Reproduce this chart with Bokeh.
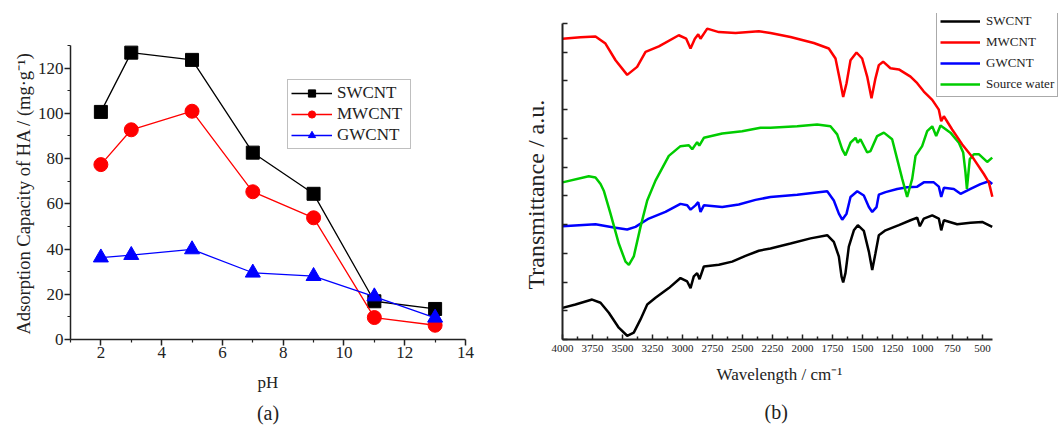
from bokeh.plotting import figure
from bokeh.layouts import row
from bokeh.models import Range1d, FixedTicker, Legend, LegendItem, Title
from bokeh.embed import file_html
from bokeh.resources import INLINE

FONT = "Liberation Serif"

# ---------------- (a) adsorption vs pH ----------------
ph = [2, 3, 5, 7, 9, 11, 13]
swcnt_ads = [100.6, 126.8, 123.6, 82.6, 64.4, 16.9, 13.5]
mwcnt_ads = [77.3, 92.7, 100.9, 65.3, 53.8, 9.7, 6.3]
gwcnt_ads = [36.2, 37.3, 39.8, 29.5, 28.0, 19.0, 9.6]

ph_ticks = [2, 4, 6, 8, 10, 12, 14]
ph_minor = [1, 3, 5, 7, 9, 11, 13]
ads_ticks = [0, 20, 40, 60, 80, 100, 120]
ads_minor = [10, 30, 50, 70, 90, 110, 130]

# ---------------- (b) FTIR spectra ----------------
ticks_b = [4000, 3750, 3500, 3250, 3000, 2750, 2500, 2250, 2000, 1750, 1500, 1250, 1000, 750, 500]
minor_b = [3875, 3625, 3375, 3125, 2875, 2625, 2375, 2125, 1875, 1625, 1375, 1125, 875, 625]
yt_b = [0, 10, 20, 30, 40, 50, 60, 70, 80, 90, 100, 110]

sw_wn = [4000, 3892, 3753, 3683, 3614, 3531, 3461, 3406, 3350, 3294, 3225, 3114, 3017, 2961,
         2933, 2906, 2878, 2858, 2822, 2697, 2586, 2475, 2364, 2267, 2100, 1933, 1794, 1739,
         1697, 1675, 1661, 1642, 1614, 1572, 1539, 1489, 1447, 1419, 1392, 1364, 1308, 1197,
         1100, 1044, 1022, 989, 919, 864, 844, 822, 711, 600, 503, 419]
sw_t = [11.0, 12.2, 13.9, 12.8, 9.3, 4.1, 1.3, 2.4, 7.0, 12.2, 14.5, 17.9, 21.4, 20.2,
        17.9, 22.0, 23.1, 21.0, 25.4, 26.0, 27.1, 29.1, 30.9, 31.7, 33.4, 35.2, 36.3, 34.0,
        28.9, 22.0, 19.9, 23.1, 32.3, 38.0, 39.8, 37.8, 30.6, 24.2, 30.0, 36.3, 38.0, 39.8,
        41.5, 42.4, 39.4, 42.1, 43.2, 42.1, 38.0, 41.5, 40.1, 40.6, 40.9, 39.2]

mw_wn = [4000, 3850, 3725, 3642, 3558, 3461, 3378, 3308, 3197, 3031, 2969, 2933, 2897, 2869,
         2850, 2794, 2697, 2558, 2364, 2267, 2100, 1906, 1781, 1725, 1683, 1661, 1633, 1600,
         1550, 1503, 1461, 1425, 1392, 1364, 1328, 1267, 1197, 1100, 1044, 989, 919, 864,
         844, 822, 753, 669, 572, 489, 447, 418]
mw_t = [104.7, 105.2, 105.5, 103.0, 97.2, 92.1, 94.9, 100.1, 102.0, 105.9, 104.7, 101.3, 104.7, 106.2,
        104.7, 108.2, 107.0, 106.7, 107.3, 106.7, 105.3, 103.2, 101.3, 97.8, 89.2, 84.4, 89.2, 97.2,
        99.9, 97.8, 91.5, 84.0, 90.9, 95.5, 96.7, 94.4, 94.0, 91.5, 89.2, 86.3, 83.4, 80.0,
        76.0, 77.7, 73.1, 67.9, 62.8, 57.6, 54.7, 49.7]

gw_wn = [4000, 3725, 3572, 3461, 3392, 3281, 3142, 3017, 2961, 2933, 2892, 2869, 2850, 2822,
         2669, 2531, 2392, 2267, 2044, 1794, 1739, 1697, 1669, 1633, 1600, 1544, 1489, 1447,
         1419, 1383, 1364, 1308, 1211, 1128, 1044, 989, 906, 864, 844, 822, 739, 683, 600,
         517, 447, 419]
gw_t = [39.4, 40.1, 39.0, 38.3, 39.2, 42.1, 44.4, 47.2, 46.7, 45.2, 46.7, 47.8, 44.4, 46.7,
        46.1, 47.0, 48.6, 49.6, 50.4, 51.6, 48.4, 43.8, 41.7, 43.8, 49.6, 51.6, 50.1, 46.1,
        44.4, 46.1, 50.4, 51.3, 52.4, 53.0, 53.2, 54.7, 54.7, 53.2, 49.6, 52.8, 52.4, 50.7, 52.4,
        54.1, 55.1, 54.1]

src_wn = [4000, 3781, 3725, 3683, 3656, 3600, 3531, 3475, 3447, 3406, 3350, 3294, 3225, 3114,
          3017, 2947, 2919, 2878, 2860, 2822, 2669, 2503, 2350, 2267, 2044, 1878, 1767, 1711,
          1669, 1642, 1600, 1558, 1540, 1517, 1461, 1433, 1378, 1322, 1253, 1211, 1169, 1128,
          1086, 1058, 1003, 961, 919, 886, 850, 767, 697, 661, 642, 630, 606, 572, 531, 461, 419]
src_t = [54.7, 56.8, 56.4, 54.1, 51.8, 43.8, 33.4, 27.1, 26.0, 28.9, 39.2, 48.4, 55.3, 63.9,
         67.3, 67.6, 66.2, 68.7, 67.5, 70.2, 71.7, 72.5, 73.7, 73.7, 74.2, 74.8, 74.2, 71.4,
         66.2, 64.1, 68.5, 70.2, 68.5, 69.7, 65.1, 65.6, 70.8, 72.0, 69.7, 62.8, 55.9, 49.6,
         55.9, 63.9, 67.3, 72.5, 74.2, 70.8, 74.5, 72.0, 68.5, 65.1, 58.2, 52.4, 62.8, 64.5, 64.5, 61.8, 63.3]

TXT = "#222222"


def style_axis(ax, tick_size):
    ax.major_label_text_font = FONT
    ax.major_label_text_font_size = tick_size
    ax.axis_label_text_font = FONT
    ax.axis_label_text_font_style = "normal"
    ax.axis_label_text_color = TXT
    ax.major_label_text_color = TXT
    ax.axis_line_color = TXT
    ax.major_tick_line_color = TXT
    ax.minor_tick_line_color = TXT


def make_title(text, size, standoff, align="center", offset=0):
    return Title(text=text, align=align, text_font=FONT, text_font_size=size,
                 text_font_style="normal", text_color=TXT, standoff=standoff, offset=offset)


# Both panels share frame top (13) and bottom (340) because the row aligns frames;
# axis bounds keep the axis lines where the reference draws them.

# ---------------- figure (a) ----------------
p1 = figure(width=480, height=429, x_range=Range1d(1, 14), y_range=Range1d(0, 144.1),
            output_backend="svg", toolbar_location=None,
            min_border_left=70, min_border_right=15, min_border_top=13, min_border_bottom=89)
p1.outline_line_color = None
p1.grid.visible = False

p1.xaxis.ticker = FixedTicker(ticks=ph_ticks, minor_ticks=ph_minor)
p1.yaxis.ticker = FixedTicker(ticks=ads_ticks, minor_ticks=ads_minor)
p1.yaxis.bounds = (0, 130)
p1.xaxis.axis_label = "pH"
p1.xaxis.axis_label_text_font_size = "17px"
for ax in (p1.xaxis[0], p1.yaxis[0]):
    style_axis(ax, "17px")
    ax.axis_line_width = 1.5
    ax.major_tick_line_width = 1.5
    ax.minor_tick_line_width = 1.2
    ax.major_tick_in = 0
    ax.major_tick_out = 6
    ax.minor_tick_in = 0
    ax.minor_tick_out = 3
p1.xaxis.major_label_standoff = 1
p1.xaxis.axis_label_standoff = 12
p1.yaxis.major_label_standoff = 1

p1.line(ph, swcnt_ads, line_color="black", line_width=1.3, legend_label="SWCNT")
p1.scatter(ph, swcnt_ads, marker="square", size=13, fill_color="black", line_color="black",
           legend_label="SWCNT")
p1.line(ph, mwcnt_ads, line_color="red", line_width=1.3, legend_label="MWCNT")
p1.scatter(ph, mwcnt_ads, marker="circle", size=14, fill_color="red", line_color="red",
           legend_label="MWCNT")
p1.line(ph, gwcnt_ads, line_color="blue", line_width=1.3, legend_label="GWCNT")
p1.scatter(ph, gwcnt_ads, marker="triangle", size=15, fill_color="blue", line_color="blue",
           legend_label="GWCNT")

lg1 = p1.legend[0]
lg1.location = (217, 190)
lg1.border_line_color = "#808080"
lg1.border_line_width = 1
lg1.label_text_font = FONT
lg1.label_text_font_size = "17px"
lg1.label_text_color = TXT
lg1.glyph_width = 41
lg1.glyph_height = 18
lg1.label_height = 19
lg1.label_standoff = 5
lg1.spacing = 1
lg1.padding = 3
lg1.margin = 0
lg1.label_width = 70

p1.add_layout(make_title("Adsorption Capacity of HA / (mg\u00b7g\u207b\u00b9)", "18.5px", 2,
                         align="left", offset=5), "left")
p1.add_layout(make_title("(a)", "20px", 11), "below")

# ---------------- figure (b) ----------------
p2 = figure(width=581, height=429, x_range=Range1d(4000, -158.3), y_range=Range1d(0, 113.47),
            output_backend="svg", toolbar_location=None,
            min_border_left=82, min_border_right=0, min_border_top=13, min_border_bottom=89)
p2.outline_line_color = None
p2.grid.visible = False

p2.xaxis.ticker = FixedTicker(ticks=ticks_b, minor_ticks=minor_b)
p2.xaxis.bounds = (415, 4000)
p2.yaxis.ticker = FixedTicker(ticks=yt_b, minor_ticks=[])
p2.yaxis.bounds = (0, 110)
p2.yaxis.major_label_overrides = {v: "" for v in yt_b}
for ax in (p2.xaxis[0], p2.yaxis[0]):
    style_axis(ax, "11px")
    ax.axis_line_width = 2
    ax.major_tick_line_width = 1.5
    ax.minor_tick_line_width = 1.5
    ax.major_tick_in = 5
    ax.major_tick_out = 0
    ax.minor_tick_in = 3
    ax.minor_tick_out = 0
p2.xaxis.major_label_standoff = 5
p2.yaxis.major_label_standoff = 0

r_sw = p2.line(sw_wn, sw_t, line_color="black", line_width=2.5)
r_gw = p2.line(gw_wn, gw_t, line_color="blue", line_width=2.5)
r_src = p2.line(src_wn, src_t, line_color="#00cc00", line_width=2.5)
r_mw = p2.line(mw_wn, mw_t, line_color="red", line_width=2.5)

lg2 = Legend(items=[LegendItem(label="SWCNT", renderers=[r_sw]),
                    LegendItem(label="MWCNT", renderers=[r_mw]),
                    LegendItem(label="GWCNT", renderers=[r_gw]),
                    LegendItem(label="Source water", renderers=[r_src])],
             location=(374, 242), border_line_color="#555555", border_line_width=1,
             label_text_font=FONT, label_text_font_size="13px", label_text_color=TXT,
             glyph_width=40, glyph_height=16, label_height=18, label_standoff=6,
             spacing=3, padding=3, margin=0)
p2.add_layout(lg2, "center")

p2.add_layout(make_title("Transmittance / a.u.", "24px", 28, align="left", offset=50), "left")
p2.add_layout(make_title("Wavelength / cm\u207b\u00b9", "17px", 17, align="left", offset=154), "below")
p2.add_layout(make_title("(b)", "20px", 13, align="left", offset=202), "below")

layout = row(p1, p2)
open("out.html", "w").write(file_html(layout, INLINE))
